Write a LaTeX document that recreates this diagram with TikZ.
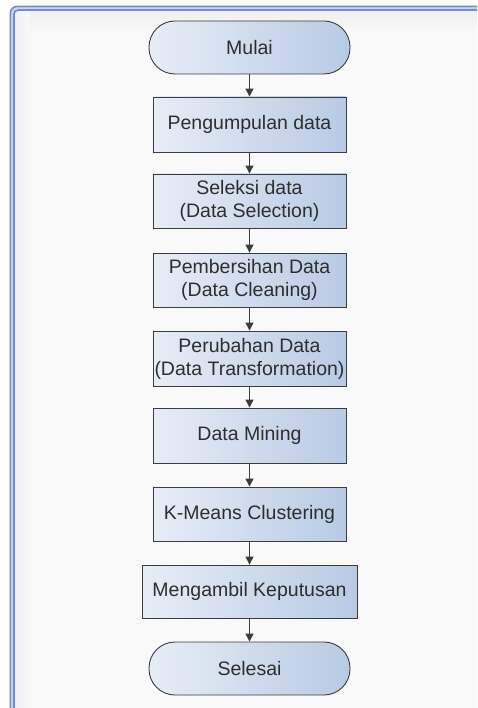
\documentclass[tikz,border=0pt]{standalone}
\usepackage{fontspec}
\setmainfont{Liberation Sans}
\usetikzlibrary{arrows.meta}
\definecolor{frameblue}{HTML}{6E8DD2}
\definecolor{framelight}{HTML}{C9D5F0}
\definecolor{fillL}{HTML}{E7EDF6}
\definecolor{fillR}{HTML}{B8CAE4}
\definecolor{edge}{HTML}{3C3C3C}
\definecolor{txt}{HTML}{2E2E2E}
\definecolor{bg}{HTML}{F9F9F9}
\definecolor{shadetop}{HTML}{EFEFEF}
\tikzset{
  procbox/.style={draw=edge, line width=0.9pt, left color=fillL, right color=fillR,
    minimum width=193pt, minimum height=55pt, inner sep=0pt, align=center,
    text=txt, font=\fontsize{19.5}{23}\selectfont},
  termbox/.style={procbox, minimum width=201pt, minimum height=53pt, rounded corners=26pt},
  flow/.style={draw=edge, line width=1.1pt, -{Triangle[width=8pt,length=8pt]}},
  frameline/.style={line width=1.7pt, rounded corners=#1}
}
\begin{document}
\begin{tikzpicture}[x=1pt,y=-1pt]
\useasboundingbox (0,0) rectangle (477,708);
\fill[white] (0,0) rectangle (477,708);
\fill[bg] (12,8) rectangle (477,708);
\shade[top color=shadetop, bottom color=bg] (14,10) rectangle (477,34);
\shade[left color=shadetop, right color=bg] (14,10) rectangle (30,708);
\draw[framelight, line width=1.5pt, rounded corners=5] (12.25,708) -- (12.25,8.25) -- (477,8.25);
\draw[frameblue, frameline=6.5] (10.5,708) -- (10.5,6.5) -- (477,6.5);
\draw[frameblue, frameline=4] (14,708) -- (14,10) -- (477,10);
\node[termbox] (mulai) at (249.5,47.5) {Mulai};
\node[procbox] (kumpul) at (249.5,124.5) {Pengumpulan data};
\node[procbox, minimum height=54pt] (seleksi) at (249.5,201) {Seleksi data\\(Data Selection)};
\node[procbox, minimum height=54pt] (bersih) at (249.5,280) {Pembersihan Data\\(Data Cleaning)};
\node[procbox] (ubah) at (249.5,358.5) {Perubahan Data\\(Data Transformation)};
\node[procbox] (mining) at (249.5,435.5) {Data Mining};
\node[procbox, minimum height=54pt] (kmeans) at (249.5,514) {K-Means Clustering};
\node[procbox, minimum width=215pt, minimum height=53pt] (ambil) at (249.5,591.5) {Mengambil Keputusan};
\node[termbox] (selesai) at (249.5,668.5) {Selesai};
\draw[flow] (mulai) -- (kumpul);
\draw[flow] (kumpul) -- (seleksi);
\draw[flow] (seleksi) -- (bersih);
\draw[flow] (bersih) -- (ubah);
\draw[flow] (ubah) -- (mining);
\draw[flow] (mining) -- (kmeans);
\draw[flow] (kmeans) -- (ambil);
\draw[flow] (ambil) -- (selesai);
\end{tikzpicture}
\end{document}
